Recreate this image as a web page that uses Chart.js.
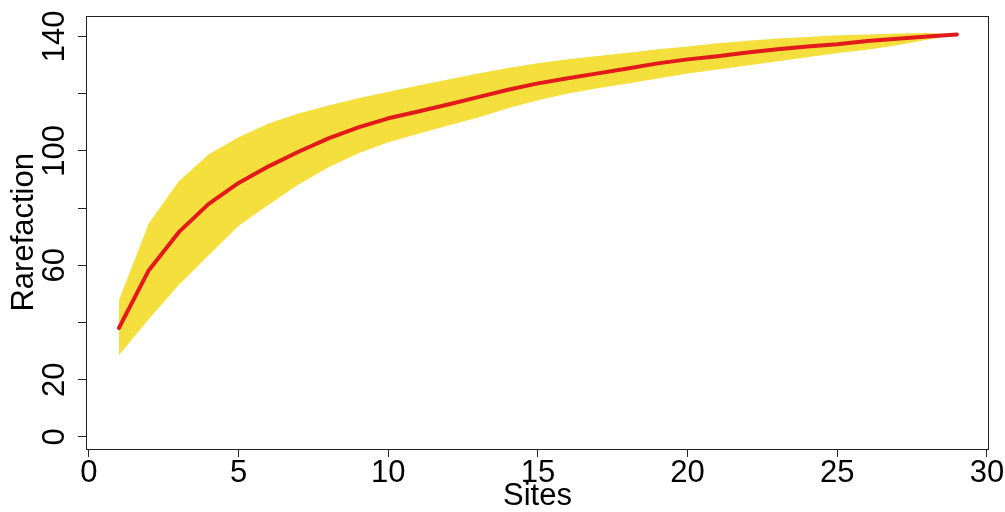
<!DOCTYPE html>
<html>
<head>
<meta charset="utf-8">
<script src="https://cdn.jsdelivr.net/npm/chart.js@4"></script>
<style>
  html, body { margin: 0; padding: 0; background: #fff; }
  #wrap { width: 1005px; height: 512px; }
</style>
</head>
<body>
<div id="wrap"><canvas id="rareChart" width="1005" height="512"></canvas></div>
<script>
const sites = [1,2,3,4,5,6,7,8,9,10,11,12,13,14,15,16,17,18,19,20,21,22,23,24,25,26,27,28,29];
const rarefaction = [38.1,58.3,71.6,81.5,88.8,94.6,99.7,104.4,108.2,111.4,113.8,116.2,118.8,121.4,123.6,125.4,127.1,128.8,130.6,132.0,133.1,134.4,135.5,136.5,137.3,138.4,139.2,140.0,140.7];
const upperCI = [47.8,74.7,89.4,98.8,104.8,109.6,113.1,115.9,118.4,120.7,122.9,125.0,127.1,129.0,130.6,132.0,133.2,134.3,135.5,136.5,137.6,138.5,139.3,139.8,140.4,140.7,141.0,141.2,140.7];
const lowerCI = [28.6,41.2,53.1,63.5,73.8,81.2,88.3,94.3,99.2,103.0,106.0,108.9,111.7,114.9,117.7,120.1,121.9,123.6,125.3,127.1,128.5,129.9,131.3,132.7,134.2,135.4,136.9,138.9,140.7];
const xTicks = [0,5,10,15,20,25,30];
const yTicks = [0,20,40,60,80,100,120,140];
const yLabelled = [0,20,60,100,140];

const FONT = 'Liberation Sans, Arial, Helvetica, sans-serif';

// box around the plot region, like R's box()
const boxPlugin = {
  id: 'box',
  afterDraw(chart) {
    const {ctx, chartArea: a} = chart;
    ctx.save();
    ctx.strokeStyle = '#222';
    ctx.lineWidth = 1;
    ctx.strokeRect(Math.round(a.left) + 0.5, Math.round(a.top) + 0.5,
                   Math.round(a.right - a.left) - 1, Math.round(a.bottom - a.top));
    ctx.restore();
  }
};

const toPts = arr => arr.map((v, i) => ({x: sites[i], y: v}));

new Chart(document.getElementById('rareChart'), {
  type: 'line',
  data: {
    datasets: [
      {
        label: 'Rarefaction',
        data: toPts(rarefaction),
        borderColor: '#e31a1c',
        borderWidth: 4,
        borderCapStyle: 'round',
        borderJoinStyle: 'round',
        pointRadius: 0,
        tension: 0,
        fill: false
      },
      {
        label: 'upper',
        data: toPts(upperCI),
        borderWidth: 0,
        borderColor: 'rgba(0,0,0,0)',
        backgroundColor: '#f5df3d',
        pointRadius: 0,
        tension: 0,
        fill: '+1'
      },
      {
        label: 'lower',
        data: toPts(lowerCI),
        borderWidth: 0,
        borderColor: 'rgba(0,0,0,0)',
        backgroundColor: '#f5df3d',
        pointRadius: 0,
        tension: 0,
        fill: false
      }
    ]
  },
  options: {
    responsive: false,
    devicePixelRatio: 1,
    animation: false,
    layout: { padding: { left: 0, top: 15, right: 16, bottom: 0 } },
    plugins: {
      legend: { display: false },
      tooltip: { enabled: false },
      title: { display: false }
    },
    scales: {
      x: {
        type: 'linear',
        min: -0.1,
        max: 30.07,
        afterBuildTicks: s => { s.ticks = xTicks.map(v => ({value: v})); },
        afterFit: s => { s.height = 63; },
        grid: { drawOnChartArea: false, drawTicks: true, tickLength: 8, color: '#222', lineWidth: 1 },
        border: { display: false },
        ticks: { color: '#000', font: { family: FONT, size: 31 }, padding: -2, maxRotation: 0, autoSkip: false },
        title: { display: true, text: 'Sites', color: '#000', font: { family: FONT, size: 31, lineHeight: 1 }, padding: 0 }
      },
      y: {
        type: 'linear',
        min: -4.2,
        max: 147.3,
        afterBuildTicks: s => { s.ticks = yTicks.map(v => ({value: v})); },
        afterFit: s => { s.width = 86; },
        grid: { drawOnChartArea: false, drawTicks: true, tickLength: 8, color: '#222', lineWidth: 1 },
        border: { display: false },
        ticks: {
          color: '#000',
          font: { family: FONT, size: 31 },
          minRotation: 90,
          maxRotation: 90,
          crossAlign: 'center',
          padding: -3,
          autoSkip: false,
          callback: v => yLabelled.includes(v) ? String(v) : ''
        },
        title: { display: true, text: 'Rarefaction', color: '#000', font: { family: FONT, size: 31, lineHeight: 1 }, padding: { top: 9, bottom: 0 } }
      }
    }
  },
  plugins: [boxPlugin]
});
</script>
</body>
</html>
